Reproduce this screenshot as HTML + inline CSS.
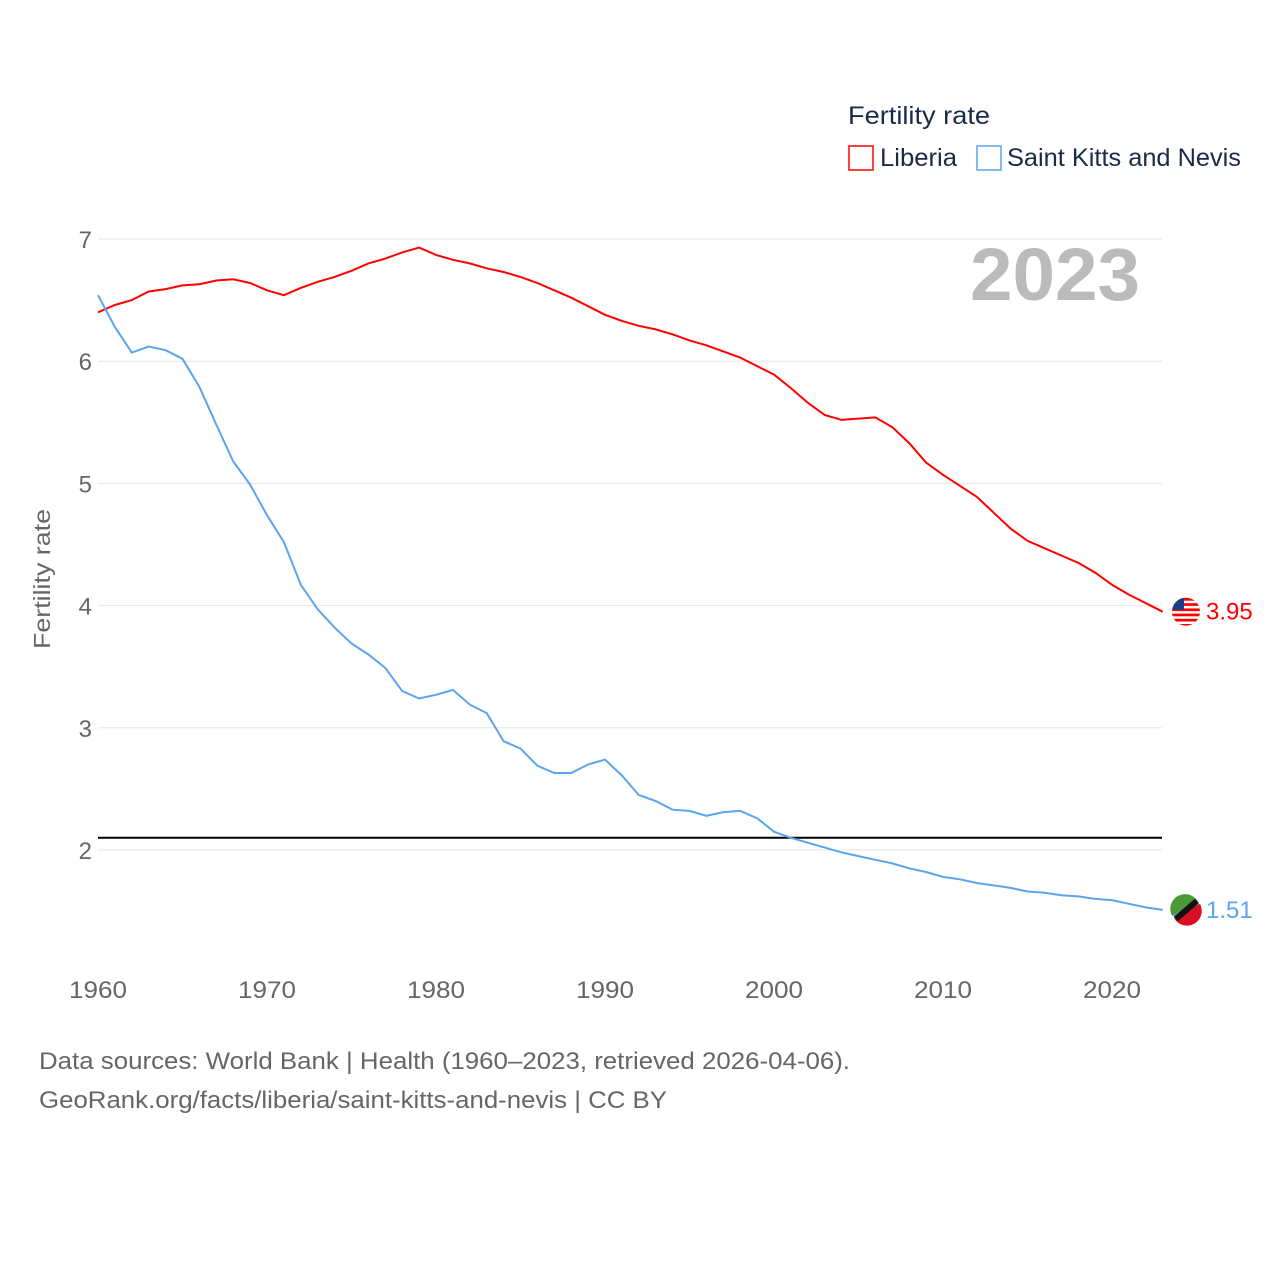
<!DOCTYPE html>
<html><head><meta charset="utf-8">
<style>
body{margin:0;background:#fff;font-family:"Liberation Sans",sans-serif;}
svg text{font-family:"Liberation Sans",sans-serif;}
</style></head>
<body>
<svg id="chart" width="1280" height="1280" xmlns="http://www.w3.org/2000/svg">
<defs><clipPath id="flagclip1"><circle id="fc1" cx="1186" cy="610" r="14"/></clipPath></defs>
<rect width="1280" height="1280" fill="#fff"/>
<g id="grid"></g>
<g id="lines"></g>
<text x="848" y="124" font-size="25" fill="#1a2a4a" textLength="142" lengthAdjust="spacingAndGlyphs">Fertility rate</text>
<rect x="849" y="146" width="24" height="24" fill="none" stroke="#f00" stroke-width="1.5"/>
<text x="880" y="166" font-size="25" fill="#1a2a4a" textLength="77" lengthAdjust="spacingAndGlyphs">Liberia</text>
<rect x="977" y="146" width="24" height="24" fill="none" stroke="#5aa5ee" stroke-width="1.5"/>
<text x="1007" y="166" font-size="25" fill="#1a2a4a" textLength="234" lengthAdjust="spacingAndGlyphs">Saint Kitts and Nevis</text>
<text x="1140" y="300" font-size="74" font-weight="bold" fill="#bbb" text-anchor="end" textLength="170" lengthAdjust="spacingAndGlyphs">2023</text>
<text transform="translate(50,579) rotate(-90)" font-size="23" fill="#666" text-anchor="middle" textLength="140" lengthAdjust="spacingAndGlyphs">Fertility rate</text>
<text x="39" y="1069" font-size="24" fill="#666" textLength="811" lengthAdjust="spacingAndGlyphs">Data sources: World Bank | Health (1960–2023, retrieved 2026-04-06).</text>
<text x="39" y="1108" font-size="24" fill="#666" textLength="628" lengthAdjust="spacingAndGlyphs">GeoRank.org/facts/liberia/saint-kitts-and-nevis | CC BY</text>
</svg>
<script>
const years=[];for(let y=1960;y<=2023;y++)years.push(y);
const liberia=[6.40,6.46,6.50,6.57,6.59,6.62,6.63,6.66,6.67,6.64,6.58,6.54,6.60,6.65,6.69,6.74,6.80,6.84,6.89,6.93,6.87,6.83,6.80,6.76,6.73,6.69,6.64,6.58,6.52,6.45,6.38,6.33,6.29,6.26,6.22,6.17,6.13,6.08,6.03,5.96,5.89,5.78,5.66,5.56,5.52,5.53,5.54,5.46,5.33,5.17,5.07,4.98,4.89,4.76,4.63,4.53,4.47,4.41,4.35,4.27,4.17,4.09,4.02,3.95];
const skn=[6.54,6.28,6.07,6.12,6.09,6.02,5.79,5.48,5.18,4.99,4.74,4.52,4.17,3.97,3.82,3.69,3.60,3.49,3.30,3.24,3.27,3.31,3.19,3.12,2.89,2.83,2.69,2.63,2.63,2.70,2.74,2.61,2.45,2.40,2.33,2.32,2.28,2.31,2.32,2.26,2.15,2.10,2.06,2.02,1.98,1.95,1.92,1.89,1.85,1.82,1.78,1.76,1.73,1.71,1.69,1.66,1.65,1.63,1.62,1.60,1.59,1.56,1.53,1.51];
const yTicks=[2,3,4,5,6,7];
const xTicks=[1960,1970,1980,1990,2000,2010,2020];
const replacement=2.1;
const X=v=>98+(v-1960)*(1014/60);
const Y=v=>850-(v-2)*122.2;
const NS="http://www.w3.org/2000/svg";
const grid=document.getElementById('grid'),lines=document.getElementById('lines');
function mk(tag,attrs,parent){const e=document.createElementNS(NS,tag);for(const k in attrs)e.setAttribute(k,attrs[k]);parent.appendChild(e);return e;}
yTicks.forEach(t=>{
 const l=mk('line',{x1:98,x2:1162,y1:Y(t),y2:Y(t),stroke:'#e6e6e6','stroke-width':1},grid);
 
 
 const tx=mk('text',{x:92,y:Y(t)+9,'font-size':24,fill:'#666','text-anchor':'end'},grid);tx.textContent=t;
 
 
});
xTicks.forEach(t=>{
 const tx=mk('text',{x:X(t),y:998,'font-size':24,fill:'#666','text-anchor':'middle',textLength:58,lengthAdjust:'spacingAndGlyphs'},grid);tx.textContent=t;
 
 
});
const rl=mk('line',{x1:98,x2:1162,y1:Y(replacement),y2:Y(replacement),stroke:'#000','stroke-width':2},lines);


function series(vals,color,name){
 const p=mk('path',{d:vals.map((v,i)=>(i?'L':'M')+X(years[i]).toFixed(1)+','+Y(v).toFixed(1)).join(''),fill:'none',stroke:color,'stroke-width':2},lines);
 
 
 const last=vals[vals.length-1],ly=Y(last);
 const c=mk('circle',{cx:1186,cy:ly,r:14,fill:color},lines);
 
 
 const tx=mk('text',{x:1206,y:ly+8,'font-size':24,fill:color},lines);tx.textContent=last.toFixed(2);
 
 
 return ly;
}
const l1=series(liberia,'#ff0000','liberia');
document.getElementById('fc1').setAttribute('cy',l1);
const fg=mk('g',{'clip-path':'url(#flagclip1)'},lines);


for(let i=0;i<5;i++){const s=mk('rect',{x:1172,y:l1-11+i*5.2,width:28,height:2.5,fill:'#fff'},fg);}
const fb=mk('rect',{x:1170,y:l1-15,width:14,height:13,fill:'#1a3a8a'},fg);
const l2=series(skn,'#5aa5ee','skn');
const g=mk('path',{d:`M1172,${l2+6} A14,14 0 0 1 1198,${l2-8} Z`,fill:'#4a9a3a'},lines);
const r=mk('path',{d:`M1174,${l2+8} A14,14 0 0 0 1200,${l2-6} Z`,fill:'#d81024'},lines);
const b=mk('line',{x1:1176,y1:l2+9,x2:1197,y2:l2-9,stroke:'#111','stroke-width':6},lines);
</script>
</body></html>
